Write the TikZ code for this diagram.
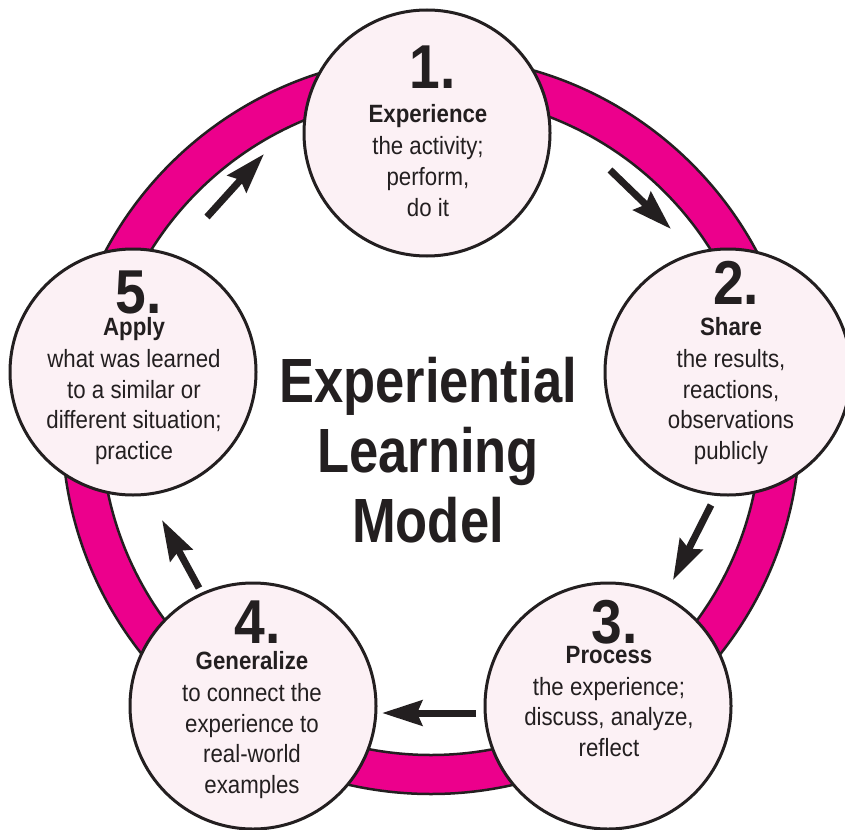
\documentclass[tikz,border=0pt]{standalone}
\usepackage{fontspec}
\setmainfont{Liberation Sans}[FakeStretch=0.89]
\newfontfamily\titlefont{Liberation Sans}[FakeStretch=0.84]
\usetikzlibrary{arrows.meta}
\definecolor{ringpink}{HTML}{EC008C}
\definecolor{stagefill}{HTML}{FCF1F5}
\definecolor{ink}{HTML}{231F20}
\tikzset{
  stage/.style={circle, draw=ink, line width=3pt, fill=stagefill, minimum size=246pt, inner sep=0pt},
  num/.style={anchor=base, font=\fontsize{62}{62}\selectfont\bfseries, text=ink, inner sep=0pt},
  body/.style={anchor=base, align=center, font=\fontsize{25}{30.5}\selectfont, text=ink, inner sep=0pt},
  titletext/.style={anchor=base, align=center, font=\titlefont\bfseries\fontsize{62.5}{70}\selectfont, text=ink, inner sep=0pt},
  flow/.style={draw=ink, line width=7pt, -{Stealth[length=40pt,width=25pt,inset=5pt]}},
}
\begin{document}
\begin{tikzpicture}[x=1pt,y=-1pt]
\useasboundingbox (0,0) rectangle (845,829);
\fill[white] (0,0) rectangle (845,829);
\coordinate (rc) at (431,425);
\fill[ringpink, even odd rule] (rc) circle[radius=369pt] (rc) circle[radius=330pt];
\draw[ink, line width=2.5pt] (rc) circle[radius=369pt] (rc) circle[radius=330pt];

\node[stage] (c1) at (427,133) {};
\node[stage] (c2) at (728,372) {};
\node[stage] (c3) at (608,706) {};
\node[stage] (c4) at (253,706) {};
\node[stage] (c5) at (133,372) {};

% body nodes are placed by the baseline of their last line
\node[num] (n1) at (433,89) {1.};
\node[body] (t1) at (428,216) {\textbf{Experience}\\[1.5pt]the activity;\\perform,\\do it};
\node[num] (n2) at (736,304) {2.};
\node[body] (t2) at (731,459) {\textbf{Share}\\[1.5pt]the results,\\reactions,\\observations\\publicly};
\node[num] (n3) at (615,643) {3.};
\node[body] (t3) at (609,756) {\textbf{Process}\\[1.5pt]the experience;\\discuss, analyze,\\reflect};
\node[num] (n4) at (258,643) {4.};
\node[body] (t4) at (252,793) {\textbf{Generalize}\\[1.5pt]to connect the\\experience to\\real-world\\examples};
\node[num] (n5) at (139,313) {5.};
\node[body] (t5) at (134,459) {\textbf{Apply}\\[1.5pt]what was learned\\to a similar or\\different situation;\\practice};

\node[titletext] (title) at (428,542) {Experiential\\Learning\\Model};

\coordinate (a51s) at (207,217); \coordinate (a51e) at (264,154);
\coordinate (a12s) at (610,170); \coordinate (a12e) at (671,229);
\coordinate (a23s) at (711,505); \coordinate (a23e) at (673,580);
\coordinate (a34s) at (476,713); \coordinate (a34e) at (382,713);
\coordinate (a45s) at (199,588); \coordinate (a45e) at (162,520);
\draw[flow] (a51s) -- (a51e);
\draw[flow] (a12s) -- (a12e);
\draw[flow] (a23s) -- (a23e);
\draw[flow] (a34s) -- (a34e);
\draw[flow] (a45s) -- (a45e);
\end{tikzpicture}
\end{document}
